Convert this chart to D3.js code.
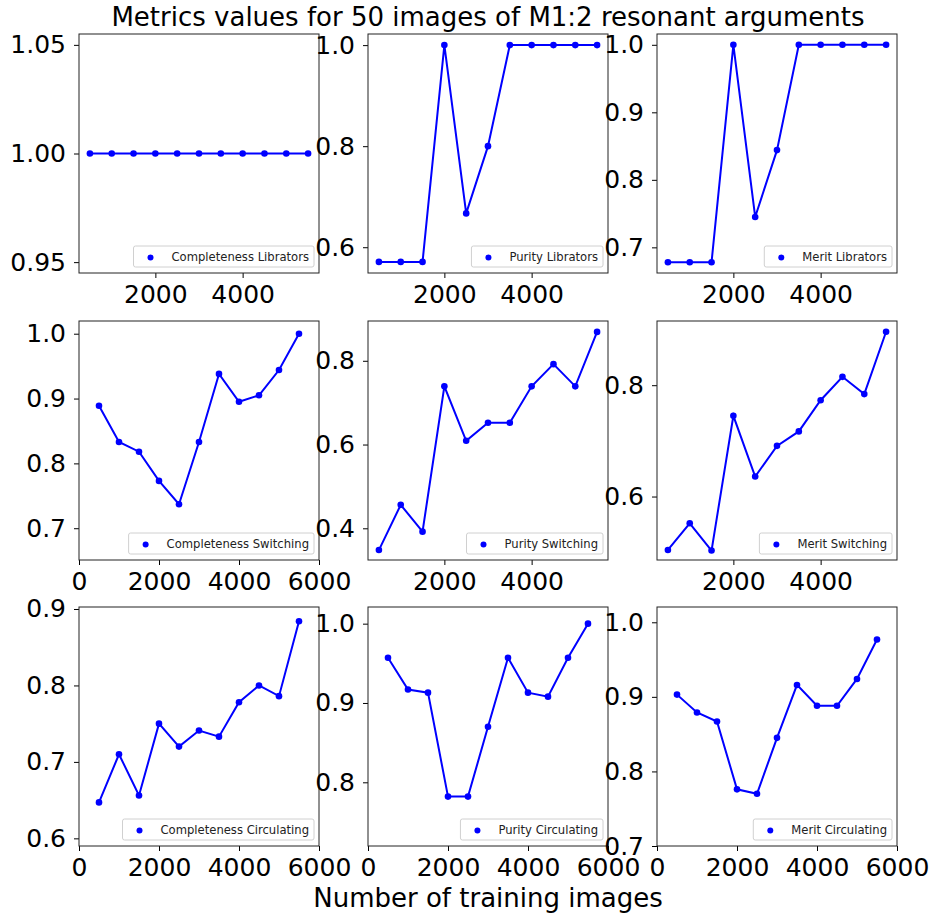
<!DOCTYPE html>
<html>
<head>
<meta charset="utf-8">
<script src="https://cdn.jsdelivr.net/npm/d3@7"></script>
<style>
  body { margin: 0; background: #fff; }
  text { font-family: "DejaVu Sans", sans-serif; }
</style>
</head>
<body>
<svg id="chart"></svg>
<script>
const width = 933;
const height = 919;

// number of training images (x values shared by every panel)
const trainingImages = [500, 1000, 1500, 2000, 2500, 3000, 3500, 4000, 4500, 5000, 5500];

// metric values
const completenessLibrators = [1, 1, 1, 1, 1, 1, 1, 1, 1, 1, 1];
const purityLibrators = [0.571, 0.571, 0.571, 1.0, 0.667, 0.8, 1, 1, 1, 1, 1];
const meritLibrators = [0.678, 0.678, 0.678, 1.0, 0.745, 0.844, 1, 1, 1, 1, 1];

const completenessSwitching = [0.889, 0.833, 0.818, 0.773, 0.737, 0.833, 0.938, 0.895, 0.905, 0.944, 1.0];
const puritySwitching = [0.348, 0.456, 0.392, 0.739, 0.609, 0.652, 0.652, 0.739, 0.792, 0.739, 0.869];
const meritSwitching = [0.504, 0.552, 0.503, 0.745, 0.636, 0.691, 0.717, 0.773, 0.815, 0.784, 0.896];

const completenessCirculating = [0.647, 0.710, 0.656, 0.750, 0.720, 0.741, 0.733, 0.778, 0.800, 0.786, 0.884];
const purityCirculating = [0.957, 0.917, 0.913, 0.782, 0.782, 0.870, 0.957, 0.913, 0.908, 0.957, 1.0];
const meritCirculating = [0.903, 0.879, 0.867, 0.776, 0.770, 0.845, 0.916, 0.888, 0.888, 0.924, 0.977];

// axis limits and tick labels per panel
const narrowX = [250, 5750];
const wideX = [0, 6000];
const narrowXTicks = [2000, 4000];
const wideXTicks = [0, 2000, 4000, 6000];

const panels = [
  {label: 'Completeness Librators', values: completenessLibrators, xDomain: narrowX, xTicks: narrowXTicks,
   yDomain: [0.945, 1.055], yTicks: [0.95, 1.0, 1.05], fmt: '.2f'},
  {label: 'Purity Librators', values: purityLibrators, xDomain: narrowX, xTicks: narrowXTicks,
   yDomain: [0.549, 1.022], yTicks: [0.6, 0.8, 1.0], fmt: '.1f'},
  {label: 'Merit Librators', values: meritLibrators, xDomain: narrowX, xTicks: narrowXTicks,
   yDomain: [0.662, 1.016], yTicks: [0.7, 0.8, 0.9, 1.0], fmt: '.1f'},
  {label: 'Completeness Switching', values: completenessSwitching, xDomain: wideX, xTicks: wideXTicks,
   yDomain: [0.651, 1.0196], yTicks: [0.7, 0.8, 0.9, 1.0], fmt: '.1f'},
  {label: 'Purity Switching', values: puritySwitching, xDomain: narrowX, xTicks: narrowXTicks,
   yDomain: [0.3243, 0.895], yTicks: [0.4, 0.6, 0.8], fmt: '.1f'},
  {label: 'Merit Switching', values: meritSwitching, xDomain: narrowX, xTicks: narrowXTicks,
   yDomain: [0.486, 0.9153], yTicks: [0.6, 0.8], fmt: '.1f'},
  {label: 'Completeness Circulating', values: completenessCirculating, xDomain: wideX, xTicks: wideXTicks,
   yDomain: [0.59, 0.9026], yTicks: [0.6, 0.7, 0.8, 0.9], fmt: '.1f'},
  {label: 'Purity Circulating', values: purityCirculating, xDomain: wideX, xTicks: wideXTicks,
   yDomain: [0.7197, 1.021], yTicks: [0.8, 0.9, 1.0], fmt: '.1f'},
  {label: 'Merit Circulating', values: meritCirculating, xDomain: wideX, xTicks: wideXTicks,
   yDomain: [0.7, 1.0205], yTicks: [0.7, 0.8, 0.9, 1.0], fmt: '.1f'}
];

const colLefts = [79, 368, 657];
const rowTops = [34, 321, 607];
const panelWidth = 240;
const panelHeight = 239;
const lineColor = '#0000ff';
const tickFontSize = 25;

const svg = d3.select('#chart')
  .attr('width', width)
  .attr('height', height);

svg.append('rect')
  .attr('width', width)
  .attr('height', height)
  .attr('fill', '#fff');

panels.forEach((p, i) => {
  const col = i % 3;
  const row = Math.floor(i / 3);
  const g = svg.append('g')
    .attr('transform', `translate(${colLefts[col]}, ${rowTops[row]})`);

  const x = d3.scaleLinear().domain(p.xDomain).range([0, panelWidth]);
  const y = d3.scaleLinear().domain(p.yDomain).range([panelHeight, 0]);

  const yAxis = g.append('g')
    .call(d3.axisLeft(y).tickValues(p.yTicks).tickFormat(d3.format(p.fmt)).tickSize(5).tickPadding(8));
  const xAxis = g.append('g')
    .attr('transform', `translate(0, ${panelHeight})`)
    .call(d3.axisBottom(x).tickValues(p.xTicks).tickFormat(d3.format('d')).tickSize(5).tickPadding(7));

  [xAxis, yAxis].forEach(ax => {
    ax.select('.domain').remove();
    ax.selectAll('text').attr('font-size', tickFontSize).attr('fill', '#000')
      .style('font-family', '"DejaVu Sans", sans-serif');
    ax.selectAll('line').attr('stroke', '#000');
  });

  const points = trainingImages.map((t, k) => ({t: t, v: p.values[k]}));

  const line = d3.line()
    .x(d => x(d.t))
    .y(d => y(d.v));

  g.append('path')
    .datum(points)
    .attr('d', line)
    .attr('fill', 'none')
    .attr('stroke', lineColor)
    .attr('stroke-width', 2);

  g.selectAll('circle.pt')
    .data(points)
    .enter()
    .append('circle')
    .attr('class', 'pt')
    .attr('cx', d => x(d.t))
    .attr('cy', d => y(d.v))
    .attr('r', 3.3)
    .attr('fill', lineColor);

  g.append('rect')
    .attr('width', panelWidth)
    .attr('height', panelHeight)
    .attr('fill', 'none')
    .attr('stroke', '#222')
    .attr('stroke-width', 1);

  // legend in the lower right corner
  const legend = g.append('g');
  const legendBox = legend.append('rect');
  const legendText = legend.append('text')
    .text(p.label)
    .attr('font-size', 11.6)
    .attr('fill', '#222');
  const textLen = legendText.node().getComputedTextLength();
  const boxW = textLen + 43;
  const boxH = 21;
  const boxX = panelWidth - 5 - boxW;
  const boxY = panelHeight - 6 - boxH;
  legendBox
    .attr('x', boxX)
    .attr('y', boxY)
    .attr('width', boxW)
    .attr('height', boxH)
    .attr('rx', 2)
    .attr('fill', '#fff')
    .attr('fill-opacity', 0.8)
    .attr('stroke', '#d0d0d0');
  legend.append('circle')
    .attr('cx', boxX + 17)
    .attr('cy', boxY + boxH / 2 + 1)
    .attr('r', 3)
    .attr('fill', lineColor);
  legendText
    .attr('x', boxX + 38)
    .attr('y', boxY + boxH / 2 + 4);
});

svg.append('text')
  .attr('x', 488)
  .attr('y', 26)
  .attr('text-anchor', 'middle')
  .attr('font-size', 26)
  .text('Metrics values for 50 images of M1:2 resonant arguments');

svg.append('text')
  .attr('x', 488)
  .attr('y', 907)
  .attr('text-anchor', 'middle')
  .attr('font-size', 26)
  .text('Number of training images');
</script>
</body>
</html>
